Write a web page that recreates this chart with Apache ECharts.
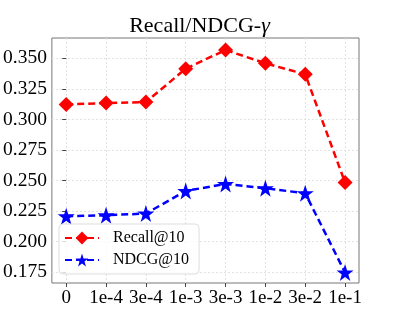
<!DOCTYPE html>
<html><head><meta charset="utf-8">
<script src="https://cdn.jsdelivr.net/npm/echarts@6/dist/echarts.min.js"></script>
<style>html,body{margin:0;padding:0;background:#fff}#c{width:399px;height:319px}</style>
</head><body><div id="c"></div>
<script>
const categories = ['0','1e-4','3e-4','1e-3','3e-3','1e-2','3e-2','1e-1'];
const recall = [0.3123,0.3134,0.3142,0.3415,0.3568,0.3459,0.3369,0.2484];
const ndcg = [0.2208,0.2216,0.2230,0.2415,0.2472,0.2437,0.2396,0.1748];
const yTicks = [0.175,0.200,0.225,0.250,0.275,0.300,0.325,0.350];
const font = 'Liberation Serif';
const chart = echarts.init(document.getElementById('c'));
const idx = categories.map((_, i) => i);
chart.setOption({
  animation: false,
  title: {text: 'Recall/NDCG-{g|γ}', left: 'center', top: 10,
    textStyle: {fontFamily: font, fontSize: 22, fontWeight: 'normal', color: '#000',
      rich: {g: {fontFamily: font, fontSize: 22, fontStyle: 'italic', color: '#000'}}}},
  grid: {left: 50, right: 40, top: 38, bottom: 36, show: true, borderColor: '#777', borderWidth: 1},
  xAxis: {type: 'value', min: -0.36, max: 7.35,
    axisLine: {show: false},
    axisTick: {show: true, customValues: idx, length: 4, lineStyle: {color: '#444'}},
    axisLabel: {customValues: idx, formatter: v => categories[Math.round(v)], fontFamily: font, fontSize: 19, color: '#000', margin: 6},
    splitLine: {show: true, lineStyle: {color: '#e2e2e2', type: [2, 2], width: 1}}},
  yAxis: {type: 'value', min: 0.1662, max: 0.3666,
    axisLine: {show: false},
    axisTick: {show: true, customValues: yTicks, length: 4, lineStyle: {color: '#444'}},
    axisLabel: {customValues: yTicks, formatter: v => v.toFixed(3), fontFamily: font, fontSize: 19.5, color: '#000', margin: 5},
    splitLine: {show: true, lineStyle: {color: '#e2e2e2', type: [2, 2], width: 1}}},
  legend: {orient: 'vertical', left: 59, top: 224, itemWidth: 34, itemHeight: 16, itemGap: 6,
    padding: [6, 10, 6, 5], borderColor: '#ddd', borderWidth: 1, borderRadius: 4, backgroundColor: 'rgba(255,255,255,0.8)',
    textStyle: {fontFamily: font, fontSize: 16, color: '#000', padding: [0, 0, 0, 9]},
    data: ['Recall@10', 'NDCG@10']},
  series: [
    {name: 'Recall@10', type: 'line', data: recall.map((v, i) => [idx[i], v]),
      symbol: 'diamond', symbolSize: 15, itemStyle: {color: '#ff0000'},
      lineStyle: {color: '#ff0000', width: 2.5, type: [7, 4]}},
    {name: 'NDCG@10', type: 'line', data: ndcg.map((v, i) => [idx[i], v]),
      symbol: 'path://M50,0 L61.8,35.1 L99,35.1 L69.1,57.3 L80.3,92.7 L50,71 L19.7,92.7 L30.9,57.3 L1,35.1 L38.2,35.1 Z', symbolSize: 17, itemStyle: {color: '#0000ff'},
      lineStyle: {color: '#0000ff', width: 2.5, type: [7, 4]}}
  ]
});
</script></body></html>
